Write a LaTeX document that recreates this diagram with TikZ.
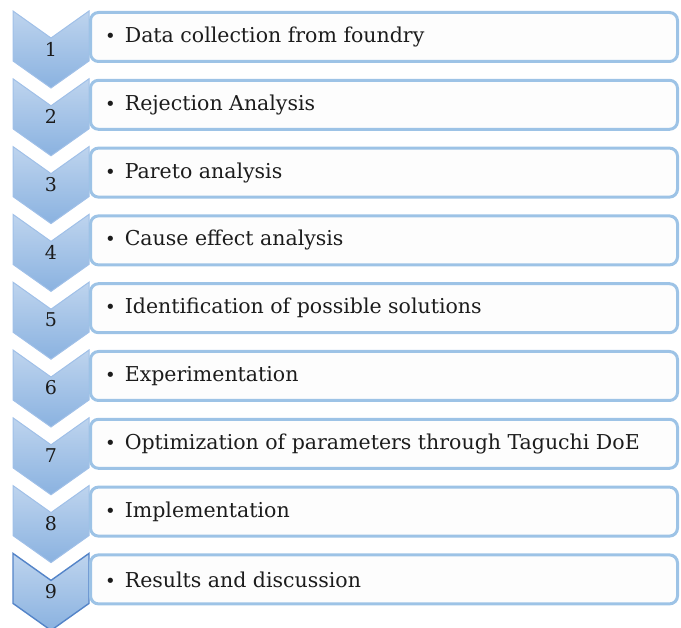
\documentclass[tikz,border=0pt]{standalone}
\usepackage{fontspec}
\setmainfont{DejaVu Serif}
\usepackage{tikz}
\usetikzlibrary{calc,positioning}
\definecolor{boxLine}{RGB}{157,195,230}
\definecolor{boxFill}{RGB}{253,253,253}
\definecolor{chevTop}{RGB}{190,212,238}
\definecolor{chevBot}{RGB}{138,178,224}
\definecolor{chevEdge}{RGB}{160,192,232}
\definecolor{chevDark}{RGB}{84,132,200}
\definecolor{txtColor}{RGB}{28,28,28}
\newcommand{\stepbullet}{{\fontsize{18}{18}\selectfont\textbullet}}
\tikzset{
    chevron/.style={
        ,   top color=chevTop
        ,   bottom color=chevBot
        ,   draw=chevEdge
        ,   line width=1pt
        ,   line join=miter
    },
    chevronLast/.style={
        ,   chevron
        ,   draw=chevDark
        ,   line width=1.4pt
    },
    stepbox/.style={
        ,   draw=boxLine
        ,   fill=boxFill
        ,   line width=3pt
        ,   rounded corners=8pt
        ,   minimum width=587pt
        ,   minimum height=49pt
        ,   inner sep=0pt
        ,   anchor=north west
    },
    steptext/.style={
        ,   anchor=west
        ,   inner sep=0pt
        ,   text=txtColor
        ,   font={\fontsize{20.5}{23}\selectfont}
    },
    stepnum/.style={
        ,   inner sep=0pt
        ,   text=txtColor
        ,   font={\fontsize{19}{22}\selectfont}
    }
}

\begin{document}
\begin{tikzpicture}[x=1pt,y=-1pt]
\useasboundingbox (0,0) rectangle (681,628);
\foreach \txt [count=\i] in {Data collection from foundry,Rejection Analysis,Pareto analysis,Cause effect analysis,Identification of possible solutions,Experimentation,Optimization of parameters through Taguchi DoE,Implementation,Results and discussion}{
  \pgfmathsetmacro\tp{11+67.8*(\i-1)}
  \ifnum\i=9 \def\chevStyle{chevronLast}\else\def\chevStyle{chevron}\fi
  \path[\chevStyle] (13,\tp) -- (51,\tp+27) -- (89,\tp) -- (89,\tp+50)
     -- (51,\tp+77) -- (13,\tp+50) -- cycle;
  \node[stepnum] (num\i) at (51,\tp+38) {\i};
  \node[stepbox] (box\i) at (89,\tp) {};
  \node[steptext] (lbl\i) at ([xshift=16pt]box\i.west) {\stepbullet\hspace{9pt}\txt};
}
\end{tikzpicture}
\end{document}
